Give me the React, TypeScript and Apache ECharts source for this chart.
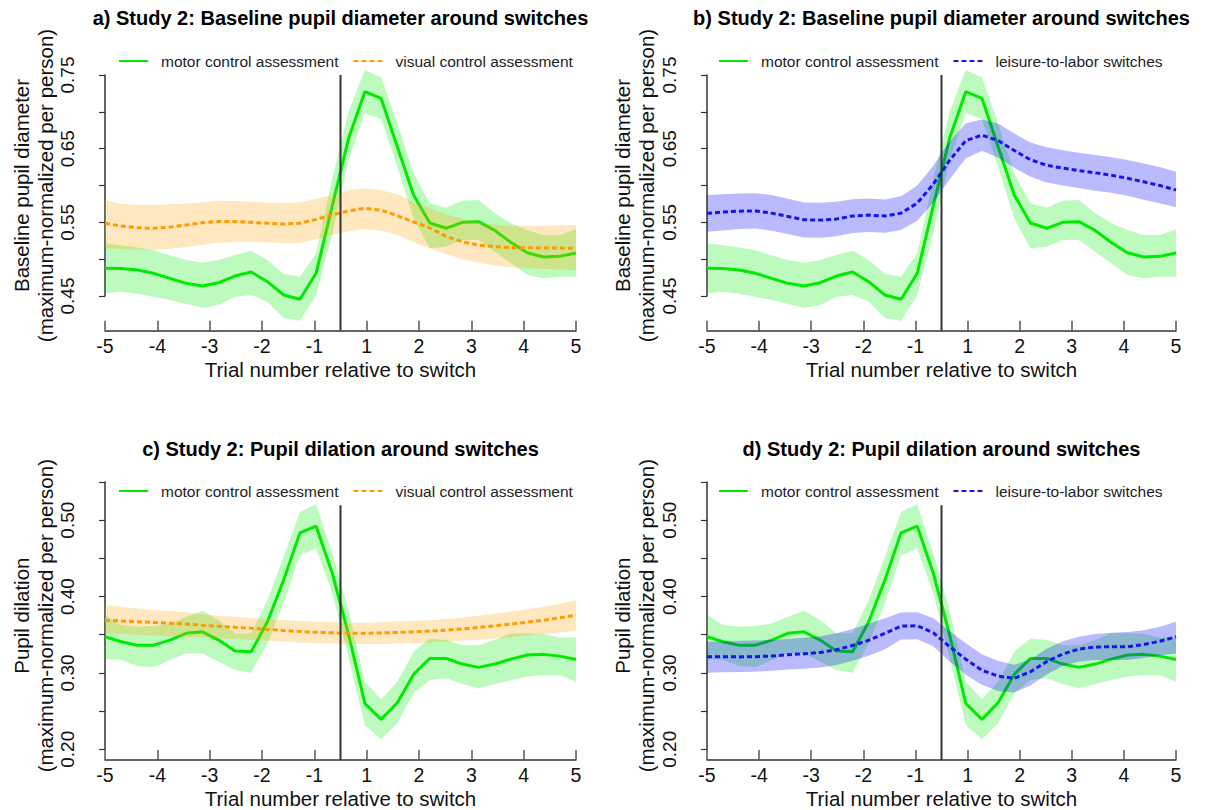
import React, { useEffect, useRef } from "react";
import * as echarts from "echarts";

// ---------- data ----------
const TRIAL_LABELS = ["-5", "-4", "-3", "-2", "-1", "1", "2", "3", "4", "5"];
const N_SAMPLES = 30;
const SWITCH_POS = 4.5;

// a/b: baseline pupil diameter
const BASE_MOTOR = [0.4876, 0.4873, 0.4853, 0.4808, 0.474, 0.4672, 0.4636, 0.4681, 0.4771, 0.4826, 0.4694, 0.4514, 0.4455, 0.4808, 0.573, 0.664, 0.7273, 0.7184, 0.6527, 0.587, 0.5491, 0.5419, 0.55, 0.5509, 0.539, 0.5226, 0.5087, 0.503, 0.5038, 0.5084];
const BASE_MOTOR_HI = [0.5215, 0.519, 0.516, 0.512, 0.505, 0.4989, 0.4952, 0.499, 0.5057, 0.5115, 0.4989, 0.48, 0.476, 0.508, 0.61, 0.7, 0.7568, 0.7469, 0.6844, 0.6166, 0.5758, 0.5699, 0.5794, 0.5803, 0.5623, 0.5487, 0.5396, 0.5328, 0.5328, 0.5405];
const BASE_MOTOR_LO = [0.4537, 0.4559, 0.453, 0.449, 0.4446, 0.439, 0.434, 0.4378, 0.449, 0.4514, 0.4423, 0.42, 0.4165, 0.451, 0.535, 0.6346, 0.698, 0.6903, 0.6255, 0.555, 0.5147, 0.517, 0.526, 0.526, 0.5101, 0.4944, 0.4785, 0.474, 0.4762, 0.4762];

const BASE_VISUAL = [0.5487, 0.545, 0.5427, 0.5419, 0.5435, 0.5465, 0.5495, 0.5512, 0.551, 0.55, 0.5487, 0.5477, 0.5487, 0.554, 0.56, 0.5655, 0.569, 0.5665, 0.559, 0.5505, 0.5425, 0.531, 0.5236, 0.519, 0.517, 0.5158, 0.5154, 0.5152, 0.515, 0.5147];
const BASE_VISUAL_HI = [0.5803, 0.5749, 0.574, 0.5735, 0.5745, 0.5755, 0.577, 0.5792, 0.579, 0.578, 0.5768, 0.5767, 0.577, 0.582, 0.5871, 0.5935, 0.5962, 0.5935, 0.588, 0.578, 0.569, 0.561, 0.555, 0.55, 0.5468, 0.5455, 0.545, 0.5455, 0.546, 0.5464];
const BASE_VISUAL_LO = [0.5147, 0.5134, 0.513, 0.5124, 0.514, 0.5165, 0.5195, 0.5222, 0.5232, 0.5235, 0.5228, 0.5218, 0.522, 0.527, 0.5328, 0.538, 0.5405, 0.539, 0.533, 0.523, 0.5147, 0.507, 0.5, 0.495, 0.4915, 0.489, 0.4876, 0.4865, 0.486, 0.4853];

const BASE_LEISURE = [0.5623, 0.564, 0.5652, 0.5655, 0.5625, 0.558, 0.5535, 0.553, 0.5545, 0.5585, 0.5598, 0.5586, 0.5625, 0.576, 0.602, 0.634, 0.661, 0.6683, 0.661, 0.6475, 0.635, 0.6275, 0.6235, 0.6202, 0.6172, 0.614, 0.6098, 0.605, 0.6, 0.5939];
const BASE_LEISURE_HI = [0.587, 0.588, 0.589, 0.5895, 0.587, 0.582, 0.577, 0.5765, 0.578, 0.5815, 0.5825, 0.581, 0.5855, 0.6, 0.627, 0.66, 0.684, 0.6895, 0.684, 0.6705, 0.6585, 0.652, 0.648, 0.6445, 0.6415, 0.6385, 0.6345, 0.63, 0.625, 0.6187];
const BASE_LEISURE_LO = [0.5373, 0.539, 0.541, 0.5415, 0.5385, 0.534, 0.5295, 0.529, 0.531, 0.5355, 0.537, 0.536, 0.5395, 0.552, 0.577, 0.608, 0.637, 0.647, 0.638, 0.624, 0.612, 0.604, 0.6, 0.5965, 0.593, 0.59, 0.586, 0.5805, 0.576, 0.5704];

// c/d: pupil dilation
const DIL_MOTOR = [0.3473, 0.3408, 0.3361, 0.3364, 0.343, 0.3518, 0.3538, 0.343, 0.3286, 0.3277, 0.367, 0.4215, 0.4834, 0.4921, 0.4302, 0.35, 0.2602, 0.2392, 0.261, 0.2981, 0.319, 0.319, 0.3116, 0.3073, 0.3116, 0.3181, 0.3234, 0.3243, 0.322, 0.3177];
const DIL_MOTOR_HI = [0.3757, 0.3626, 0.3604, 0.3613, 0.3648, 0.3735, 0.3813, 0.3691, 0.3518, 0.3518, 0.3953, 0.452, 0.5108, 0.5209, 0.4564, 0.382, 0.2884, 0.2654, 0.2884, 0.3277, 0.3452, 0.343, 0.3364, 0.3364, 0.343, 0.3518, 0.3518, 0.351, 0.3465, 0.3465];
const DIL_MOTOR_LO = [0.3181, 0.3168, 0.309, 0.3073, 0.3168, 0.3256, 0.3256, 0.3146, 0.3037, 0.3003, 0.3387, 0.391, 0.4542, 0.463, 0.4041, 0.32, 0.2318, 0.2131, 0.234, 0.2733, 0.2907, 0.2929, 0.2854, 0.2798, 0.2854, 0.2907, 0.295, 0.2972, 0.2972, 0.2884];

const DIL_VISUAL = [0.3691, 0.368, 0.367, 0.366, 0.365, 0.364, 0.3625, 0.3612, 0.3598, 0.3585, 0.357, 0.3555, 0.3542, 0.3532, 0.3525, 0.352, 0.352, 0.3523, 0.353, 0.3538, 0.3548, 0.356, 0.3577, 0.3595, 0.3617, 0.364, 0.3665, 0.369, 0.3722, 0.3757];
const DIL_VISUAL_HI = [0.389, 0.3865, 0.3845, 0.3822, 0.381, 0.379, 0.3768, 0.375, 0.3735, 0.372, 0.3705, 0.369, 0.368, 0.367, 0.3662, 0.3656, 0.3658, 0.3665, 0.3672, 0.368, 0.3691, 0.3705, 0.3725, 0.375, 0.3775, 0.3805, 0.3835, 0.3866, 0.3905, 0.3953];
const DIL_VISUAL_LO = [0.3515, 0.351, 0.35, 0.349, 0.348, 0.347, 0.3465, 0.3455, 0.3445, 0.3432, 0.342, 0.341, 0.34, 0.3392, 0.3385, 0.3378, 0.3378, 0.338, 0.3385, 0.339, 0.3398, 0.3408, 0.342, 0.3435, 0.345, 0.3468, 0.349, 0.351, 0.353, 0.3552];

const DIL_LEISURE = [0.3211, 0.3211, 0.321, 0.3213, 0.3222, 0.3238, 0.3251, 0.3268, 0.3303, 0.336, 0.3428, 0.3518, 0.3613, 0.3617, 0.3525, 0.3345, 0.318, 0.3035, 0.2958, 0.293, 0.3015, 0.3148, 0.3248, 0.3312, 0.334, 0.3343, 0.3342, 0.3372, 0.3415, 0.3473];
const DIL_LEISURE_HI = [0.3408, 0.3412, 0.342, 0.3425, 0.3432, 0.3445, 0.3462, 0.348, 0.352, 0.3575, 0.3645, 0.3715, 0.3792, 0.3795, 0.3715, 0.355, 0.339, 0.3245, 0.3155, 0.3108, 0.3175, 0.3315, 0.3415, 0.3475, 0.351, 0.3525, 0.3535, 0.356, 0.3605, 0.3669];
const DIL_LEISURE_LO = [0.3003, 0.301, 0.3012, 0.3015, 0.303, 0.3045, 0.3055, 0.307, 0.3105, 0.316, 0.3225, 0.331, 0.3439, 0.3442, 0.335, 0.315, 0.2975, 0.2845, 0.2765, 0.2745, 0.2835, 0.298, 0.309, 0.315, 0.317, 0.317, 0.3168, 0.3195, 0.323, 0.3256];

const NAME_MOTOR = "motor control assessment";
const NAME_VISUAL = "visual control assessment";
const NAME_LEISURE = "leisure-to-labor switches";

const TITLES = [
  "a) Study 2: Baseline pupil diameter around switches",
  "b) Study 2: Baseline pupil diameter around switches",
  "c) Study 2: Pupil dilation around switches",
  "d) Study 2: Pupil dilation around switches",
];
const Y_NAMES = [
  "Baseline pupil diameter\n(maximum-normalized per person)",
  "Baseline pupil diameter\n(maximum-normalized per person)",
  "Pupil dilation\n(maximum-normalized per person)",
  "Pupil dilation\n(maximum-normalized per person)",
];
const X_NAME = "Trial number relative to switch";

// ---------- styling ----------
const FONT = "'Liberation Sans', Arial, sans-serif";
const GREEN = "#00EA00";
const GREEN_BAND = "rgba(0,235,0,0.26)";
const ORANGE = "#FF9B00";
const ORANGE_BAND = "rgba(255,165,0,0.25)";
const BLUE = "#1414EE";
const BLUE_BAND = "rgba(0,0,255,0.27)";
const AXIS = "#333";

const POS = Array.from({ length: N_SAMPLES }, (_, i) => (i * (TRIAL_LABELS.length - 1)) / (N_SAMPLES - 1));

type Panel = {
  left: number; top: number; width: number; height: number;
  yMin: number; yMax: number; yLabelOdd: boolean; xOffset: number; yOffset: number;
  vBottom: number; vTop: number;
  titleTop: number; legendLeft: number; legendTop: number;
  motor: number[]; motorLo: number[]; motorHi: number[];
  other: number[]; otherLo: number[]; otherHi: number[];
  otherName: string; otherColor: string; otherBand: string;
};

const PANELS: Panel[] = [
  { left: 105, top: 75, width: 471, height: 221, yMin: 0.45, yMax: 0.75, yLabelOdd: true, xOffset: 34.7, yOffset: 18,
    vBottom: 0.403, vTop: 0.75, titleTop: 8, legendLeft: 118, legendTop: 53,
    motor: BASE_MOTOR, motorLo: BASE_MOTOR_LO, motorHi: BASE_MOTOR_HI,
    other: BASE_VISUAL, otherLo: BASE_VISUAL_LO, otherHi: BASE_VISUAL_HI,
    otherName: NAME_VISUAL, otherColor: ORANGE, otherBand: ORANGE_BAND },
  { left: 707, top: 75, width: 469, height: 221, yMin: 0.45, yMax: 0.75, yLabelOdd: true, xOffset: 34.7, yOffset: 18.5,
    vBottom: 0.403, vTop: 0.75, titleTop: 8, legendLeft: 718, legendTop: 53,
    motor: BASE_MOTOR, motorLo: BASE_MOTOR_LO, motorHi: BASE_MOTOR_HI,
    other: BASE_LEISURE, otherLo: BASE_LEISURE_LO, otherHi: BASE_LEISURE_HI,
    otherName: NAME_LEISURE, otherColor: BLUE, otherBand: BLUE_BAND },
  { left: 105, top: 482, width: 471, height: 267.3, yMin: 0.2, yMax: 0.55, yLabelOdd: false, xOffset: 10.7, yOffset: 18,
    vBottom: 0.186, vTop: 0.5196, titleTop: 439, legendLeft: 118, legendTop: 483,
    motor: DIL_MOTOR, motorLo: DIL_MOTOR_LO, motorHi: DIL_MOTOR_HI,
    other: DIL_VISUAL, otherLo: DIL_VISUAL_LO, otherHi: DIL_VISUAL_HI,
    otherName: NAME_VISUAL, otherColor: ORANGE, otherBand: ORANGE_BAND },
  { left: 707, top: 482, width: 469, height: 267.3, yMin: 0.2, yMax: 0.55, yLabelOdd: false, xOffset: 10.7, yOffset: 18.5,
    vBottom: 0.186, vTop: 0.5196, titleTop: 439, legendLeft: 718, legendTop: 483,
    motor: DIL_MOTOR, motorLo: DIL_MOTOR_LO, motorHi: DIL_MOTOR_HI,
    other: DIL_LEISURE, otherLo: DIL_LEISURE_LO, otherHi: DIL_LEISURE_HI,
    otherName: NAME_LEISURE, otherColor: BLUE, otherBand: BLUE_BAND },
];

function bandSeries(idx: number, lo: number[], hi: number[], color: string, z: number) {
  return {
    type: "custom",
    xAxisIndex: idx,
    yAxisIndex: idx,
    silent: true,
    clip: false,
    z,
    data: POS.map((p, i) => [p, lo[i], hi[i]]),
    encode: { x: 0, y: [1, 2] },
    renderItem: (params: any, api: any) => {
      if (params.dataIndex !== 0) return null;
      const top = POS.map((p, i) => api.coord([p, hi[i]]));
      const bot = POS.map((p, i) => api.coord([p, lo[i]])).reverse();
      return { type: "polygon", shape: { points: top.concat(bot) }, style: { fill: color }, silent: true };
    },
  };
}

function lineSeries(idx: number, name: string, vals: number[], color: string, dashed: boolean, z: number) {
  return {
    type: "line",
    name,
    xAxisIndex: idx,
    yAxisIndex: idx,
    data: POS.map((p, i) => [p, vals[i]]),
    symbol: "none",
    showSymbol: false,
    clip: false,
    silent: true,
    z,
    itemStyle: { color },
    lineStyle: { color, width: 3, type: dashed ? [5, 3] : "solid" },
  };
}

function buildOption() {
  const grid: any[] = [];
  const xAxis: any[] = [];
  const yAxis: any[] = [];
  const series: any[] = [];
  const title: any[] = [];
  const legend: any[] = [];

  PANELS.forEach((p, idx) => {
    grid.push({ left: p.left, top: p.top, width: p.width, height: p.height, containLabel: false });
    xAxis.push({
      type: "value", gridIndex: idx, min: 0, max: TRIAL_LABELS.length - 1, interval: 1,
      offset: p.xOffset,
      name: X_NAME, nameLocation: "middle", nameGap: 28,
      nameTextStyle: { fontSize: 20.5, fontFamily: FONT, color: "#111" },
      axisLine: { show: true, onZero: false, lineStyle: { color: AXIS, width: 1.5 } },
      axisTick: { show: true, inside: true, length: 10, lineStyle: { color: "#555", width: 1.5 } },
      axisLabel: { margin: 5, fontSize: 19.5, fontFamily: FONT, color: "#111",
        formatter: (v: number) => TRIAL_LABELS[Math.round(v)] ?? "" },
      splitLine: { show: false },
    });
    yAxis.push({
      type: "value", gridIndex: idx, min: p.yMin, max: p.yMax, interval: 0.05,
      offset: p.yOffset,
      name: Y_NAMES[idx], nameLocation: "middle", nameGap: 30,
      nameTextStyle: { fontSize: 20.5, fontFamily: FONT, color: "#111", lineHeight: 24 },
      axisLine: { show: true, lineStyle: { color: AXIS, width: 1.5 } },
      axisTick: { show: true, inside: false, length: 6, lineStyle: { color: AXIS, width: 1.2 } },
      axisLabel: {
        rotate: 90, margin: 10, fontSize: 19, fontFamily: FONT, color: "#111",
        formatter: (v: number) => {
          const k = Math.round(v * 100) % 10;
          const show = p.yLabelOdd ? k === 5 : k === 0;
          return show ? v.toFixed(2) : "";
        },
      },
      splitLine: { show: false },
    });

    series.push(bandSeries(idx, p.motorLo, p.motorHi, GREEN_BAND, 1));
    series.push(lineSeries(idx, NAME_MOTOR, p.motor, GREEN, false, 2));
    series.push(bandSeries(idx, p.otherLo, p.otherHi, p.otherBand, 3));
    series.push(lineSeries(idx, p.otherName, p.other, p.otherColor, true, 4));
    series.push({
      type: "line", xAxisIndex: idx, yAxisIndex: idx, silent: true, clip: false, z: 5,
      symbol: "none", showSymbol: false,
      data: [[SWITCH_POS, p.vBottom], [SWITCH_POS, p.vTop]],
      lineStyle: { color: "#333", width: 2 },
    });

    title.push({
      text: TITLES[idx], left: p.left + p.width / 2, top: p.titleTop, textAlign: "center", padding: 0,
      textStyle: { fontSize: 20, fontWeight: "bold", fontFamily: FONT, color: "#000" },
    });
    legend.push({
      data: [NAME_MOTOR, p.otherName], left: p.legendLeft, top: p.legendTop, orient: "horizontal",
      itemWidth: 29, itemHeight: 14, itemGap: 14, padding: 0, selectedMode: false,
      itemStyle: { opacity: 0 },
      textStyle: { fontSize: 15.5, fontFamily: FONT, color: "#222", padding: [0, 0, 0, 8] },
    });
  });

  return {
    animation: false,
    backgroundColor: "#fff",
    textStyle: { fontFamily: FONT },
    title, legend, grid, xAxis, yAxis, series,
  };
}

export default function App() {
  const ref = useRef<HTMLDivElement>(null);
  useEffect(() => {
    if (!ref.current) return;
    const chart = echarts.init(ref.current, undefined, { renderer: "svg" });
    chart.setOption(buildOption() as any);
    return () => chart.dispose();
  }, []);
  return (
    <div
      ref={ref}
      style={{ position: "fixed", left: 0, top: 0, width: 1205, height: 810, background: "#fff" }}
    />
  );
}
